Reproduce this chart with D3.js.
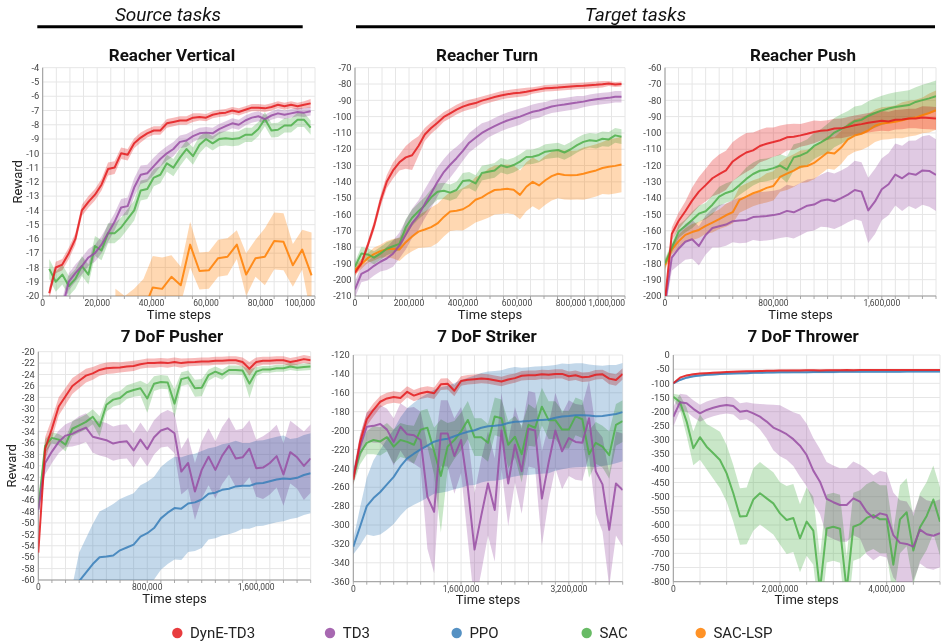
<!DOCTYPE html>
<html><head><meta charset="utf-8">
<script src="https://cdn.jsdelivr.net/npm/d3@7"></script>
<style>body{margin:0;background:#fff} svg{display:block;font-family:Roboto,"Noto Sans",sans-serif}</style>
</head><body><svg id="c" width="943" height="642"></svg>
<script>
// ---------- legend / series ----------
const seriesKeys = ['dyne','td3','ppo','sac','lsp'];
const seriesNames = ['DynE-TD3','TD3','PPO','SAC','SAC-LSP'];

// ---------- Reacher Vertical ----------
const rvX = d3.range(1,42).map(i=>i*2400);
const rvLspX = d3.range(0,22).map(i=>26700+i*3430);
const rvXTicks = [0,20000,40000,60000,80000,100000];
const rvDyneM = [-19.8,-18.0,-17.8,-17.0,-16.0,-14.0,-13.4,-12.9,-12.2,-11.1,-11.0,-10.0,-10.1,-9.3,-8.9,-8.6,-8.4,-8.4,-7.9,-7.8,-7.7,-7.7,-7.5,-7.45,-7.5,-7.3,-7.2,-7.15,-7.0,-7.1,-6.95,-6.8,-6.8,-6.85,-6.75,-6.6,-6.7,-6.6,-6.7,-6.6,-6.5];
const rvDyneS = [0.4,0.4,0.4,0.4,0.4,0.4,0.4,0.4,0.4,0.45,0.45,0.4,0.4,0.35,0.35,0.3,0.3,0.3,0.3,0.3,0.3,0.3,0.3,0.25,0.25,0.25,0.25,0.25,0.25,0.25,0.25,0.25,0.25,0.25,0.25,0.25,0.25,0.25,0.25,0.25,0.3];
const rvTd3M = [null,null,-20.8,-19.0,-18.4,-17.9,-17.3,-17.0,-16.4,-15.6,-14.8,-13.8,-13.7,-12.4,-11.5,-11.4,-10.9,-10.4,-10.0,-9.7,-9.2,-9.1,-8.8,-8.6,-8.55,-8.6,-8.3,-8.1,-7.9,-8.0,-7.7,-7.5,-7.4,-7.6,-7.35,-7.2,-7.3,-7.2,-7.1,-7.15,-7.05];
const rvTd3S = [0.6,0.6,0.6,0.6,0.6,0.6,0.6,0.6,0.6,0.6,0.6,0.6,0.6,0.65,0.65,0.6,0.6,0.55,0.5,0.5,0.45,0.45,0.4,0.4,0.4,0.4,0.35,0.35,0.35,0.35,0.35,0.35,0.35,0.3,0.3,0.3,0.3,0.3,0.3,0.3,0.3];
const rvSacM = [-18.1,-19.0,-18.5,-19.3,-18.8,-17.9,-18.5,-16.5,-16.8,-15.6,-15.6,-15.2,-14.6,-14.0,-12.6,-12.5,-11.7,-11.5,-10.7,-11.0,-10.3,-9.7,-10.2,-9.4,-9.0,-9.3,-9.0,-8.95,-9.0,-8.95,-8.7,-8.7,-8.3,-7.6,-8.4,-8.35,-8.05,-8.05,-7.65,-7.65,-8.2];
const rvSacS = [0.7,0.7,0.7,0.7,0.7,0.7,0.7,0.7,0.7,0.7,0.7,0.7,0.7,0.7,0.7,0.7,0.6,0.6,0.6,0.6,0.6,0.6,0.6,0.6,0.5,0.5,0.5,0.5,0.5,0.5,0.5,0.5,0.5,0.5,0.5,0.5,0.5,0.5,0.5,0.5,0.5];
const rvLspM = [-21.5,-22,-21.5,-21,-19.4,-19.5,-18.65,-19.25,-16.4,-18.25,-18.2,-17.35,-17.25,-16.4,-18.5,-17.35,-17.25,-16.15,-16.2,-17.85,-16.75,-18.55];
const rvLspS = [2,2,2,2.2,2.2,2.2,1.5,1.3,1.6,1.3,1.3,1.3,1.3,1.0,1.5,1.3,2.0,2.0,2.0,1.5,1.4,3.0];

// ---------- Reacher Turn ----------
const rtX = d3.range(0,43).map(i=>i*23500);
const rtXTicks = [0,200000,400000,600000,800000,1000000];
const rtDyneM = [-195.7,-190,-179,-167,-152,-140,-133,-128,-125,-123.7,-118,-111,-107,-103.7,-100.2,-98,-95.7,-93.9,-92.6,-91.7,-90.2,-89.1,-88,-87,-86.3,-85.7,-85.3,-84.8,-84,-83.3,-82.6,-82.4,-82.2,-81.8,-81.5,-81.2,-81,-80.7,-80.5,-80.2,-79.7,-80.3,-80];
const rtDyneS = [2,2,2.5,3,3.5,4,5,5,7,9,6,4,3.5,3.5,3,3,3,3,3,3,2.5,2.5,2.5,2.5,2.5,2.5,2.5,2.5,2,2,2,2,2,2,2,2,2,2,2,2,1.5,1.5,1.5];
const rtTd3M = [-206,-196.5,-194.5,-191.5,-189,-187,-184,-179,-172.5,-165.5,-160.5,-153.5,-147,-140,-134,-129.5,-125.5,-121,-116,-113,-110,-107.8,-105.8,-104,-102.4,-101.2,-100,-98.5,-97,-96.2,-95,-93.8,-93.1,-92.6,-91.9,-91.4,-90.8,-90,-89.3,-88.9,-88.5,-87.8,-87.8];
const rtTd3S = [5,5,6,6,6,7,8,8,9,9,9,9,9,9,8,8,7,6,6,6,6,5,5,5,5,5,5,4.5,4.5,4.5,4,4,4,4,4,4,3.5,3.5,3.5,3.5,3.5,3.5,3.5];
const rtSacM = [-192,-184,-184.5,-186.5,-184,-181,-179.5,-178,-168,-162,-158,-154.5,-149.5,-146,-145.5,-146.6,-145,-139.5,-139,-141,-134.6,-133.8,-133,-129.8,-131,-129.7,-127.6,-124.8,-124.6,-123.5,-121.5,-121,-120.5,-122,-120,-117.5,-115.5,-114.5,-115,-113.6,-114,-111.5,-112.3];
const rtSacS = [3,4,4,4,4,4,4,4,5,5,5,5,5,5,5,5,5,5,5,5,4.5,4.5,4.5,4.5,4.5,4.5,4.5,4.5,4.5,4.5,4.5,4.5,4.5,4.5,4.5,4.5,4.5,4.5,4.5,4.5,4.5,4.5,4.5];
const rtLspM = [-194,-190.5,-186.8,-184.3,-182.5,-181.3,-181,-181.5,-177,-173.5,-170.5,-169.2,-167.8,-165.5,-161.5,-158.2,-157.7,-156.8,-154.5,-151,-149.5,-147,-145,-144.7,-144.3,-144.8,-148,-143,-140,-142.2,-139,-136.5,-135,-135.8,-136,-135.8,-135,-134,-133,-131.5,-130.8,-130.2,-129.4];
const rtLspS = [3,3,3,4,4,5,6,7,8,9,10,11,12,12,12,12,12,13,13,14,14,15,15,15,15,15,15,15,15,15,15,15,15,15,15,15,16,16,16,16,17,17,17];

// ---------- Reacher Push ----------
const rpX = d3.range(0,41).map(i=>i*50000);
const rpXTicks = [0,800000,1600000];
const rpDyneM = [-203,-162,-154,-148,-141.5,-136,-132,-127.8,-125.3,-123,-117.5,-114.5,-112,-110.7,-108,-106.6,-105.6,-104.5,-102.7,-102.3,-101.5,-100.5,-99.4,-98.7,-98.3,-97.3,-97.2,-96.3,-95.3,-94.6,-93.8,-93.2,-92.6,-93,-91.9,-91.7,-91.2,-91.1,-90.6,-90.8,-91.1];
const rpDyneS = [3,4,5,6,8,9,10,11,12,12,12,12,12,11,10,10,9,9,8,8,7,7,7,6,6,6,6,6,6,6,6,6,6,6,6,6,6,6,7,7,7];
const rpTd3M = [-205,-176.5,-171,-166.7,-165.2,-169.3,-162.6,-158.3,-157.2,-156.2,-154.1,-153.7,-153.4,-151.6,-151.3,-150.9,-150.4,-149.5,-147.8,-148.7,-146.7,-144.6,-143.9,-141.6,-140.8,-141.9,-140,-137.8,-135,-136,-147.5,-142,-134.5,-131.5,-125.5,-127.8,-124.8,-125.7,-123,-123.3,-125.8];
const rpTd3S = [5,8,10,11,12,12,12,12,13,13,13,14,14,14,15,15,15,15,16,16,16,16,16,16,17,17,17,17,18,18,20,20,19,19,19,20,20,21,21,22,22];
const rpSacM = [-180,-170.5,-160.5,-157.1,-153.4,-149.5,-148,-144,-139,-136.8,-135.5,-132,-128.2,-125.2,-123.2,-122.7,-121.6,-120,-122.5,-115,-113.8,-111.9,-108,-105.8,-103.4,-99.8,-97.6,-95.5,-92.8,-92,-89.6,-87.8,-86.2,-85,-84.1,-83.5,-82.9,-81,-79.9,-78.8,-77.4];
const rpSacS = [3,3,4,4,5,5,5,6,6,6,6,6,7,7,7,7,7,7,8,8,8,8,8,8,9,9,9,9,9,9,9,9,9,9,9,9,9,9,9.5,9.5,9.5];
const rpLspM = [-181,-171.5,-166.5,-162.5,-160.8,-159.5,-157,-155,-152.9,-150.5,-148.6,-141,-139,-137,-135.6,-133.7,-132.5,-127,-125,-123.1,-120.7,-120.3,-118.4,-115.2,-112,-112.6,-109,-104,-101.6,-100.5,-98.5,-95.6,-94.2,-93.8,-93.2,-92.2,-91.2,-90.6,-89.2,-87.8,-86];
const rpLspS = [3,3,4,4,5,5,5,6,6,7,7,8,8,8,8,9,9,9,10,10,10,10,10,10,10,10,10,10,10,10,10,10,10,10,10,11,11,11,11,12,12];

// ---------- 7 DoF Pusher ----------
const dpX = d3.range(0,41).map(i=>i*50000);
const dpXTicks = [0,800000,1600000];
const dpDyneM = [-55.2,-37,-33.5,-29.6,-27.8,-26,-25.1,-24.2,-23.8,-23.2,-22.9,-22.8,-22.75,-22.6,-22.5,-22.2,-22.0,-22.0,-21.9,-22.0,-21.8,-22.0,-21.85,-21.8,-21.7,-21.7,-21.6,-21.6,-21.5,-21.5,-21.8,-23.0,-21.8,-21.6,-21.6,-21.5,-21.5,-21.8,-21.6,-21.3,-21.5];
const dpDyneS = [1,2,1.8,1.6,1.5,1.4,1.3,1.2,1.1,1,1,1,0.9,0.9,0.9,0.8,0.8,0.8,0.8,0.8,0.8,0.8,0.7,0.7,0.7,0.7,0.7,0.7,0.7,0.7,0.8,1.2,0.8,0.7,0.7,0.7,0.7,0.7,0.7,0.7,0.7];
const dpTd3M = [-47.7,-39.5,-37.5,-35.8,-34.7,-34.4,-33.8,-33.3,-34.9,-35.2,-35.5,-36.1,-35.8,-35.7,-37.3,-35.4,-37.1,-35.0,-33.8,-33.4,-34.3,-41,-39.5,-44.5,-40.7,-38.4,-40.7,-38.2,-36.5,-38.7,-38.5,-37,-40.4,-40.3,-39.5,-38.3,-41.5,-37.6,-38.5,-40,-38.7];
const dpTd3S = [1.5,2,2,2,2,2.2,2.5,2.5,2.8,3,3,3,3,3,3,3,3,3,3,3.2,3.5,4,4.5,5,5,5,5,5,5,5,5,5,5,5.5,5.5,5.5,5.5,5.5,5.5,6,6];
const dpSacM = [-47.5,-36.5,-35.1,-35.4,-36.3,-33.5,-32.9,-32.3,-31.4,-33.1,-29.3,-28.4,-28.1,-27.1,-26.7,-26.4,-28.2,-25.6,-25.3,-25.4,-29.1,-24.8,-24.5,-26.4,-26.3,-24.1,-23.5,-24.0,-23.2,-23.2,-23.3,-25.6,-23.5,-23.1,-23.1,-22.9,-22.9,-22.6,-22.8,-22.7,-22.6];
const dpSacS = [1,1.2,1,1,1.2,1.3,1.3,1.3,1.3,1.8,1.2,1.2,1.2,1.2,1.2,1.3,2.5,1.3,1.2,1.2,2.5,1.2,1.2,1.5,1.5,1.0,0.9,0.9,0.8,0.8,0.8,2.5,0.8,0.6,0.6,0.6,0.6,0.6,0.6,0.6,0.6];
const dpPpoM = [null,null,null,null,null,-66,-60.2,-58.7,-57.2,-56,-55.9,-55.7,-54.8,-54.3,-53.8,-52.4,-51.8,-50.9,-49.2,-48.2,-47.4,-47.5,-46.6,-46.4,-45.9,-44.9,-44.7,-44.2,-44.0,-43.6,-43.5,-43.5,-43.1,-43.0,-42.7,-42.4,-42.2,-42.3,-42.1,-41.6,-41.3];
const dpPpoS = [null,null,null,null,null,5,5,6,7,8,8.5,9,9,9,9,9,9,9,9,9,9,9,8.5,8.5,8.5,8,8,8,8,8,7.5,7.5,7.5,7.5,7.5,7.5,7.5,7,7,7,7];

// ---------- 7 DoF Striker ----------
const dsX = d3.range(0,41).map(i=>i*100000);
const dsXTicks = [0,1600000,3200000];
const dsDyneM = [-252,-212,-188,-178,-169.5,-166,-164.5,-165.5,-159,-163,-160.5,-159,-160.5,-151,-150.5,-157.8,-147.5,-146.3,-145.6,-144.8,-145.5,-146.8,-148,-146,-144.5,-142,-141.5,-141.5,-140.5,-141,-140,-140,-142.5,-141.5,-143.5,-143,-141,-140.5,-145,-146.5,-140];
const dsDyneS = [6,7,7,7,6,6,6,6,6,6,6,6,6,6,6,6,5,5,5,5,5,5,5,5,5,5,5,5,5,5,5,5,5,5,5,5,5,5,6,6,6];
const dsPpoM = [-323,-301.8,-280,-271.5,-265,-257,-249,-238,-229.5,-224.5,-220,-216,-211.8,-209.8,-208.6,-206,-203.5,-201.2,-199.7,-197,-195.5,-195,-194.1,-192,-190.6,-190.4,-190,-189.2,-188.8,-188.3,-186.5,-185,-184.6,-183.8,-183.7,-184,-184.8,-184.5,-183.5,-182.5,-180.5];
const dsPpoS = [8,20,30,40,45,48,50,52,53,54,55,55,55,56,56,56,57,57,58,58,58,58,58,58,58,57,57,57,57,57,56,56,55,55,55,54,54,53,53,52,52];
const dsTd3M = [-249,-217,-196,-195,-193,-199,-212,-196,-204,-205,-210,-270,-286,-203,-203,-227,-210,-260,-326,-290,-256,-284,-200,-256,-215,-243,-198,-200,-272,-234,-200,-222,-208,-212,-213,-187,-243,-257,-305,-256,-263];
const dsTd3S = [8,12,15,18,20,22,25,25,28,30,30,55,65,35,35,40,35,55,60,60,55,55,40,45,40,45,40,40,50,40,40,40,40,40,40,40,45,50,60,55,60];
const dsSacM = [-249,-224,-213,-210,-211.5,-207,-217,-210,-212,-215,-199,-197,-222,-248,-217,-210,-201,-188.8,-207,-207,-213,-185,-187,-215,-206.5,-225,-194,-197,-174.7,-189,-189,-199,-199,-185,-188,-225,-213,-217,-226,-194,-190];
const dsSacS = [8,12,12,15,15,15,18,18,18,20,20,20,25,60,25,20,20,20,20,20,20,20,20,25,22,30,22,20,20,20,20,20,20,20,20,25,22,22,25,22,22];

// ---------- 7 DoF Thrower ----------
const dtX = d3.range(0,41).map(i=>i*125000);
const dtXTicks = [0,2000000,4000000];
const dtDyneM = [-100,-80,-72,-68,-65.5,-64,-62.5,-61.5,-60,-59.5,-58.5,-57.5,-57,-56.5,-56,-55.5,-55,-55,-54.5,-54.5,-54,-54,-54.5,-54,-53.5,-53.5,-53,-53.5,-53,-52.5,-53,-53,-52.5,-53,-53,-52.5,-52.5,-53,-53,-52.5,-53];
const dtDyneS = [3,3,3,3,3,3,3,3,3,3,3,3,3,3,3,3,3,3,3,3,3,3,3,3,3,3,3,3,3,3,3,3,3,3,3,3,3,3,3,3,3];
const dtPpoM = [-100,-88,-80,-75,-72,-70,-68.5,-67,-66,-65,-64.5,-64,-63,-62.5,-62,-61.5,-61,-61,-60.5,-60.5,-60.5,-60,-60,-60,-60,-59.5,-59.5,-59.5,-59.5,-59,-59,-59,-59,-59,-59,-58.5,-58.5,-58.5,-58.5,-58.5,-58.5];
const dtPpoS = [4,4,4,4,4,4,4,4,4,4,4,4,4,4,4,4,4,4,4,4,4,4,4,4,4,4,4,4,4,4,4,4,4,4,4,4,4,4,4,4,4];
const dtTd3M = [-218,-167,-170.6,-190,-205.9,-194,-186,-180,-176.5,-180,-200,-196.5,-205.9,-217.6,-235,-256,-267,-279.5,-297,-320,-353,-408,-447,-508,-519.5,-529.4,-529.4,-506,-517.6,-553,-574.6,-558.8,-564.7,-635.3,-663,-666.6,-676.5,-616,-632.4,-638,-629];
const dtTd3S = [35,30,30,30,30,30,30,30,30,30,30,30,35,45,60,80,90,90,95,110,110,115,115,130,130,130,130,130,130,150,150,150,150,150,150,150,120,120,120,120,120];
const dtSacM = [-147,-166,-235,-329,-290,-323.5,-347,-370.6,-417.6,-488,-570,-568,-510,-488,-506,-523.5,-559,-582,-575,-647,-588,-620,-830,-612,-606,-613,-830,-606,-597,-575,-565,-580,-580,-740,-580,-555,-690,-608,-568,-510,-588];
const dtSacS = [10,25,50,60,80,80,90,100,100,100,100,100,110,110,110,110,110,120,120,120,120,120,120,120,120,120,120,120,120,120,120,120,120,120,120,120,120,120,120,120,120];

// ---------- styling ----------
const colors = {dyne:'#e41a1c', td3:'#984ea3', ppo:'#377eb8', sac:'#4daf4a', lsp:'#ff7f00'};
const drawOrder = ['lsp','sac','ppo','td3','dyne'];

const panels = [
 {title:'Reacher Vertical', L:42.7,R:315,T:67.7,B:296, xMax:100000, y0:-20,y1:-4,yStep:1, xGrid:5000, xTicks:rvXTicks, tx:172, ty:61, ylab:22,
  series:{lsp:[rvLspX,rvLspM,rvLspS], sac:[rvX,rvSacM,rvSacS], td3:[rvX,rvTd3M,rvTd3S], dyne:[rvX,rvDyneM,rvDyneS]}},
 {title:'Reacher Turn', L:355,R:625,T:67.7,B:296, xMax:1000000, y0:-210,y1:-70,yStep:10, xGrid:50000, xTicks:rtXTicks, tx:487, ty:61,
  series:{lsp:[rtX,rtLspM,rtLspS], sac:[rtX,rtSacM,rtSacS], td3:[rtX,rtTd3M,rtTd3S], dyne:[rtX,rtDyneM,rtDyneS]}},
 {title:'Reacher Push', L:665,R:936,T:67.7,B:296, xMax:2000000, y0:-200,y1:-60,yStep:10, xGrid:100000, xTicks:rpXTicks, tx:803, ty:61,
  series:{lsp:[rpX,rpLspM,rpLspS], sac:[rpX,rpSacM,rpSacS], td3:[rpX,rpTd3M,rpTd3S], dyne:[rpX,rpDyneM,rpDyneS]}},
 {title:'7 DoF Pusher', L:38.3,R:310.7,T:351.7,B:580, xMax:2000000, y0:-60,y1:-20,yStep:2, xGrid:100000, xTicks:dpXTicks, tx:172, ty:342, ylab:15.5,
  series:{sac:[dpX,dpSacM,dpSacS], ppo:[dpX,dpPpoM,dpPpoS], td3:[dpX,dpTd3M,dpTd3S], dyne:[dpX,dpDyneM,dpDyneS]}},
 {title:'7 DoF Striker', L:353.3,R:622.7,T:355,B:581.7, xMax:4000000, y0:-360,y1:-120,yStep:20, xGrid:200000, xTicks:dsXTicks, tx:487, ty:342,
  series:{sac:[dsX,dsSacM,dsSacS], ppo:[dsX,dsPpoM,dsPpoS], td3:[dsX,dsTd3M,dsTd3S], dyne:[dsX,dsDyneM,dsDyneS]}},
 {title:'7 DoF Thrower', L:673.3,R:940,T:355,B:581.7, xMax:5000000, y0:-800,y1:0,yStep:50, xGrid:500000, xTicks:dtXTicks, tx:803, ty:342,
  series:{sac:[dtX,dtSacM,dtSacS], td3:[dtX,dtTd3M,dtTd3S], ppo:[dtX,dtPpoM,dtPpoS], dyne:[dtX,dtDyneM,dtDyneS]}}
];

const svg = d3.select('#c');
const fmt = d3.format(',');

// headers
function header(text, cx, x1, x2){
  svg.append('text').attr('x',cx).attr('y',21).attr('text-anchor','middle')
    .attr('font-size',19).attr('font-style','italic').attr('fill','#111').text(text);
  svg.append('line').attr('x1',x1).attr('x2',x2).attr('y1',26.7).attr('y2',26.7)
    .attr('stroke','#000').attr('stroke-width',3);
}
header('Source tasks',168,37.3,302.7);
header('Target tasks',635.5,356,935);

panels.forEach((p,pi)=>{
  const g = svg.append('g');
  const x = d3.scaleLinear().domain([0,p.xMax]).range([p.L,p.R]);
  const y = d3.scaleLinear().domain([p.y0,p.y1]).range([p.B,p.T]);
  const cid = 'clip'+pi;
  svg.append('clipPath').attr('id',cid).append('rect')
    .attr('x',p.L).attr('y',p.T).attr('width',p.R-p.L).attr('height',p.B-p.T);

  const yTicks = d3.range(p.y0, p.y1+p.yStep/2, p.yStep);
  const xGrid = d3.range(0, p.xMax+p.xGrid/2, p.xGrid);
  // grid
  g.selectAll('.hg').data(yTicks).join('line')
    .attr('x1',p.L).attr('x2',p.R).attr('y1',d=>y(d)).attr('y2',d=>y(d))
    .attr('stroke','#e6e6e6').attr('stroke-width',1);
  g.selectAll('.vg').data(xGrid).join('line')
    .attr('y1',p.T).attr('y2',p.B).attr('x1',d=>x(d)).attr('x2',d=>x(d))
    .attr('stroke','#e6e6e6').attr('stroke-width',1);
  // x tick marks
  g.selectAll('.xt').data(xGrid).join('line')
    .attr('y1',p.B).attr('y2',p.B+3).attr('x1',d=>x(d)).attr('x2',d=>x(d))
    .attr('stroke','#aaa').attr('stroke-width',1);
  // axes
  g.append('line').attr('x1',p.L).attr('x2',p.L).attr('y1',p.T).attr('y2',p.B).attr('stroke','#999');
  g.append('line').attr('x1',p.L).attr('x2',p.R).attr('y1',p.B).attr('y2',p.B).attr('stroke','#999');
  // y labels
  g.selectAll('.yl').data(yTicks).join('text')
    .attr('x',p.L-3.5).attr('y',d=>y(d)).attr('dy','0.35em').attr('text-anchor','end')
    .attr('font-size',9.3).attr('fill','#444').text(d=>String(d));
  // x labels
  g.selectAll('.xl').data(p.xTicks).join('text')
    .attr('x',d=>x(d)).attr('y',p.B+10).attr('text-anchor',d=>d===p.xMax?'end':'middle')
    .attr('font-size',8.5).attr('fill','#444').text(d=>fmt(d));
  // axis titles
  g.append('text').attr('x',(p.L+p.R)/2).attr('y',p.B+22.5).attr('text-anchor','middle')
    .attr('font-size',13).attr('fill','#222').text('Time steps');
  if(p.ylab!==undefined){
    g.append('text').attr('transform',`translate(${p.ylab},${(p.T+p.B)/2}) rotate(-90)`)
      .attr('text-anchor','middle').attr('font-size',13).attr('fill','#222').text('Reward');
  }
  // title
  g.append('text').attr('x',p.tx).attr('y',p.ty).attr('text-anchor','middle')
    .attr('font-size',17).attr('font-weight','bold').attr('fill','#111').text(p.title);

  // data
  const plot = g.append('g').attr('clip-path',`url(#${cid})`);
  const keys = drawOrder.filter(k=>p.series[k]);
  const build = k => { const [xs,m,s]=p.series[k]; return xs.map((xv,i)=>({x:xv,m:m[i],s:s[i]})); };
  const area = d3.area().defined(d=>d.m!=null).x(d=>x(d.x)).y0(d=>y(d.m-d.s)).y1(d=>y(d.m+d.s));
  const line = d3.line().defined(d=>d.m!=null).x(d=>x(d.x)).y(d=>y(d.m));
  const bands = plot.append('g');
  keys.forEach(k=>{
    bands.append('path').datum(build(k)).attr('d',area)
      .attr('fill',colors[k]).attr('fill-opacity',0.3).attr('stroke','none')
      .style('mix-blend-mode','multiply');
  });
  keys.forEach(k=>{
    plot.append('path').datum(build(k)).attr('d',line)
      .attr('fill','none').attr('stroke',colors[k]).attr('stroke-opacity',0.85)
      .attr('stroke-width',2).attr('stroke-linejoin','round');
  });
});

// legend
const legX = [177.3,330,456.7,586.7,700.7];
seriesKeys.forEach((k,i)=>{
  svg.append('circle').attr('cx',legX[i]).attr('cy',633).attr('r',5.2)
    .attr('fill',colors[k]).attr('fill-opacity',0.85);
  svg.append('text').attr('x',legX[i]+12.7).attr('y',633).attr('dy','0.36em')
    .attr('font-size',15).attr('fill','#222').text(seriesNames[i]);
});
</script></body></html>
